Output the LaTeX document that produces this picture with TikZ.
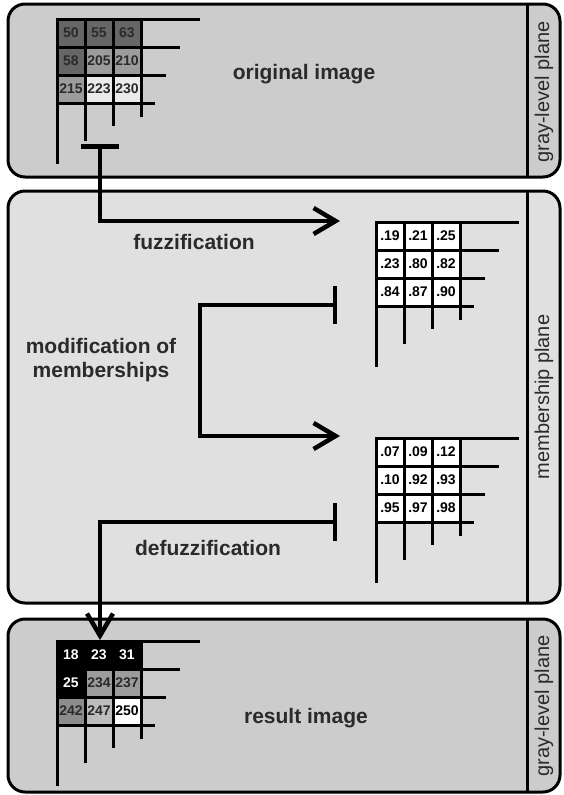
\documentclass[tikz,border=0pt]{standalone}
\usepackage{fontspec}
\setmainfont{Liberation Sans}
\usetikzlibrary{arrows.meta}
\definecolor{glp}{HTML}{CCCCCC}
\definecolor{mpl}{HTML}{E0E0E0}
\definecolor{txt}{HTML}{2A2A2A}
\definecolor{dk}{HTML}{666666}
\definecolor{md}{HTML}{9C9C9C}
\definecolor{mdd}{HTML}{8C8C8C}
\definecolor{lt}{HTML}{EBEBEB}
\definecolor{mdl}{HTML}{BDBDBD}
\tikzset{
  panel/.style={draw, line width=3pt, rounded corners=17pt, inner sep=0pt, outer sep=0pt},
  gline/.style={line width=3pt, line cap=rect},
  cell/.style={minimum size=28pt, inner sep=0pt, font=\fontsize{14}{14}\selectfont\bfseries},
  lbl/.style={font=\fontsize{21}{24}\selectfont\bfseries, text=txt, align=center},
  side/.style={font=\fontsize{20}{21}\selectfont, rotate=90, text=txt},
  conn/.style={line width=4.5pt, {Bar[width=38pt]}-{Straight Barb[length=22pt,width=26pt]}},
}
\newcommand{\drawgrid}[2]{%
  \foreach \i/\h/\v in {0/141/143,1/121/120,2/107/105,3/96/96}{
    \draw[gline] (#1, #2+\i*28) -- ++(\h,0);
    \draw[gline] (#1+\i*28, #2) -- ++(0,\v);
  }}
\begin{document}
\begin{tikzpicture}[x=1pt,y=-1pt]
\useasboundingbox (0,0) rectangle (563,795);
% panels
\foreach \n/\cy/\h/\f in {p1/90.5/173/glp, p2/397/412/mpl, p3/705.5/173/glp}{
  \node[panel, fill=\f, minimum width=552pt, minimum height=\h pt,
    path picture={\fill[white] (527,0) rectangle (570,800);}] (\n) at (284,\cy) {};
  \draw[line width=3pt] (527,\cy-\h/2) -- (527,\cy+\h/2);
}
\node[side] (s1) at (544,92) {gray-level plane};
\node[side] (s2) at (544,397) {membership plane};
\node[side] (s3) at (544,706) {gray-level plane};

% grid 1: original image
\foreach \r/\c/\f/\t/\s in {0/0/dk/txt/50,0/1/dk/txt/55,0/2/dk/txt/63,
  1/0/dk/txt/58,1/1/md/txt/205,1/2/md/txt/210,
  2/0/md/txt/215,2/1/lt/txt/223,2/2/lt/txt/230}{
  \node[cell, fill=\f, text=\t] (g1-\r-\c) at (57+14+\c*28, 19+14+\r*28) {\s};
}
\drawgrid{57}{19}
% grid 2: memberships
\foreach \r/\c/\s in {0/0/.19,0/1/.21,0/2/.25,1/0/.23,1/1/.80,1/2/.82,2/0/.84,2/1/.87,2/2/.90}{
  \node[cell, fill=white, text=black] (g2-\r-\c) at (376+14+\c*28, 222+14+\r*28) {\s};
}
\drawgrid{376}{222}
% grid 3: modified memberships
\foreach \r/\c/\s in {0/0/.07,0/1/.09,0/2/.12,1/0/.10,1/1/.92,1/2/.93,2/0/.95,2/1/.97,2/2/.98}{
  \node[cell, fill=white, text=black] (g3-\r-\c) at (376+14+\c*28, 438+14+\r*28) {\s};
}
\drawgrid{376}{438}
% grid 4: result image
\foreach \r/\c/\f/\t/\s in {0/0/black/white/18,0/1/black/white/23,0/2/black/white/31,
  1/0/black/white/25,1/1/md/txt/234,1/2/md/txt/237,
  2/0/mdd/txt/242,2/1/mdl/txt/247,2/2/white/black/250}{
  \node[cell, fill=\f, text=\t] (g4-\r-\c) at (57+14+\c*28, 641+14+\r*28) {\s};
}
\drawgrid{57}{641}

% labels
\node[lbl] (l1) at (304,74) {original image};
\node[lbl] (l2) at (194,242) {fuzzification};
\node[lbl] (l3) at (101,360) {modification of\\memberships};
\node[lbl] (l4) at (208,548) {defuzzification};
\node[lbl] (l5) at (306,718) {result image};

% connectors
\coordinate (t1) at (100,144);
\coordinate (a1) at (340,221);
\coordinate (t2) at (337,305);
\coordinate (a2) at (340,436);
\coordinate (t3) at (337,522);
\coordinate (a3) at (100,640);
\draw[conn] (t1) |- (a1);
\draw[conn] (t2) -- ++(-137,0) |- (a2);
\draw[conn] (t3) -| (a3);
\end{tikzpicture}
\end{document}
